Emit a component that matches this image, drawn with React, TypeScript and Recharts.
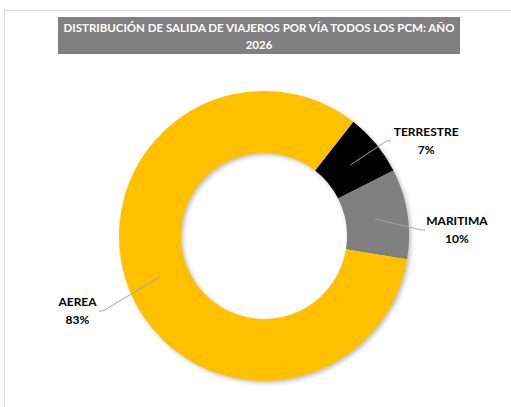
import { PieChart, Pie, Cell } from "recharts";

const TITLE_LINES = [
  "DISTRIBUCIÓN DE SALIDA DE VIAJEROS POR VÍA TODOS LOS PCM: AÑO",
  "2026",
];

const VIAS = ["TERRESTRE", "MARITIMA", "AEREA"];
const PORCENTAJES = [7, 10, 83];

const COLORS = [
  "#000000", // terrestre
  "#808080", // maritima
  "#FFC000", // aerea
];

// label placement tweaks (angle shift in degrees, distance from centre)
const LABEL_POS = [
  { dAngle: -9, r: 188 },
  { dAngle: -7, r: 193 },
  { dAngle: 0.5, r: 201 },
];

const RAD = Math.PI / 180;
const FONT = "Lato, 'Open Sans', sans-serif";

const data = VIAS.map((name, i) => ({ name, value: PORCENTAJES[i] }));

function renderLabel(props: any) {
  const { cx, cy, midAngle, index, name, value } = props;
  const pos = LABEL_POS[index];
  // recharts angles: counter-clockwise from 3 o'clock
  const a = midAngle + pos.dAngle;
  const lx = cx + pos.r * Math.cos(-a * RAD);
  const ly = cy + pos.r * Math.sin(-a * RAD);
  const sx = cx + 112 * Math.cos(-midAngle * RAD);
  const sy = cy + 112 * Math.sin(-midAngle * RAD);
  const half = name.length * 3.5 + 4;
  const right = lx > cx;
  const ex = right ? lx - half : lx + half;
  const kx = right ? ex - 4 : ex + 4;
  return (
    <g>
      <polyline
        points={`${sx},${sy} ${kx},${ly} ${ex},${ly}`}
        fill="none"
        stroke="#A6A6A6"
        strokeWidth={1}
      />
      <text
        x={lx}
        y={ly - 9}
        textAnchor="middle"
        dominantBaseline="central"
        fontFamily={FONT}
        fontWeight={700}
        fontSize={12}
        fill="#000"
      >
        {name}
      </text>
      <text
        x={lx}
        y={ly + 9}
        textAnchor="middle"
        dominantBaseline="central"
        fontFamily={FONT}
        fontWeight={700}
        fontSize={12}
        fill="#000"
      >
        {value}%
      </text>
    </g>
  );
}

export default function App() {
  return (
    <div
      style={{
        position: "absolute",
        left: 0,
        top: 0,
        width: 511,
        height: 407,
        overflow: "hidden",
        background: "#fff",
      }}
    >
      <div
        style={{
          position: "absolute",
          left: 4,
          top: 10,
          width: 540,
          height: 440,
          border: "1px solid #D9D9D9",
        }}
      />
      <div
        style={{
          position: "absolute",
          left: 58,
          top: 17,
          width: 402,
          height: 37,
          background: "#808080",
          color: "#fff",
          fontFamily: FONT,
          fontWeight: 700,
          fontSize: 11.5,
          lineHeight: "17px",
          textAlign: "center",
          whiteSpace: "nowrap",
          paddingTop: 2,
          boxSizing: "border-box",
        }}
      >
        {TITLE_LINES.map((t) => (
          <div key={t}>{t}</div>
        ))}
      </div>
      <div style={{ position: "absolute", left: 0, top: 0 }}>
        <PieChart width={511} height={407}>
          <Pie
            data={data}
            dataKey="value"
            nameKey="name"
            cx={259}
            cy={231}
            innerRadius={83}
            outerRadius={145}
            startAngle={52}
            endAngle={-308}
            stroke="none"
            label={renderLabel}
            labelLine={false}
            isAnimationActive={false}
            style={{ filter: "drop-shadow(2px 2px 2px rgba(0,0,0,0.25))" }}
          >
            {data.map((_, i) => (
              <Cell key={i} fill={COLORS[i]} />
            ))}
          </Pie>
        </PieChart>
      </div>
    </div>
  );
}
